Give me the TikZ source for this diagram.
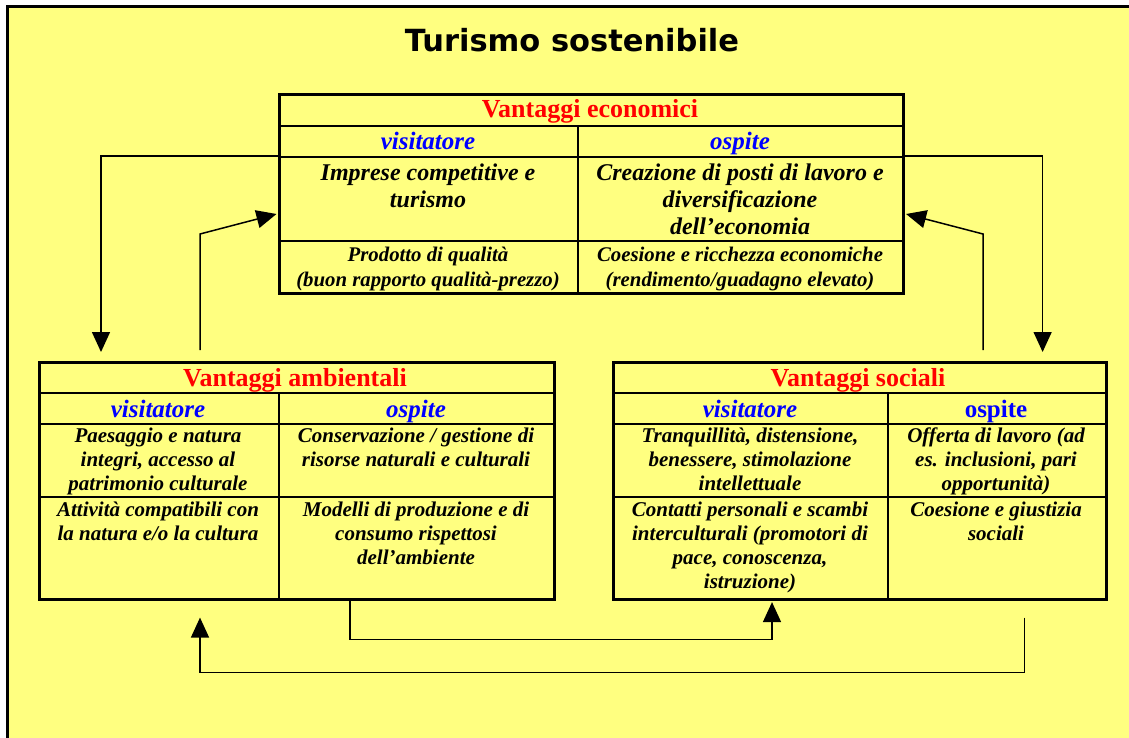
\documentclass[tikz,border=0pt]{standalone}
\usepackage{fontspec}
\setmainfont{Liberation Serif}
\newfontfamily\headfont{DejaVu Sans}
\usetikzlibrary{calc,arrows.meta}
\definecolor{bgyellow}{RGB}{255,255,128}

\begin{document}
\begin{tikzpicture}[x=1pt,y=-1pt,
  panel/.style={draw=black, line width=2.6pt, inner sep=0pt, anchor=north west},
  rule/.style={black, line width=2pt},
  boxtitle/.style={font=\fontsize{26}{30}\selectfont\bfseries, text=red, inner sep=0pt, anchor=base},
  colhead/.style={font=\fontsize{25}{29}\selectfont\bfseries\itshape, text=blue, inner sep=0pt, anchor=base},
  bigtext/.style={font=\fontsize{24}{27}\selectfont\bfseries\itshape, align=center, anchor=north, inner sep=0pt},
  smalltext/.style={font=\fontsize{20.8}{25}\selectfont\bfseries\itshape, align=center, anchor=north, inner sep=0pt},
  midtext/.style={font=\fontsize{21}{24}\selectfont\bfseries\itshape, align=center, anchor=north, inner sep=0pt},
  conn/.style={black, line width=1.5pt, -{Triangle[length=20pt,width=18pt]}}]
  \useasboundingbox (0,0) rectangle (1129,738);
  \fill[white] (0,0) rectangle (1129,738);
  \fill[bgyellow] (7,7) rectangle (1129,738);
  \draw[line width=3pt] (7,738) -- (7,7) -- (1129,7);
  \node[font=\headfont\fontsize{30.5}{34}\selectfont\bfseries, inner sep=0pt, anchor=base] (title) at (572,52) {Turismo sostenibile};

  \node[panel, minimum width=624pt, minimum height=199pt] (eco) at (278,93) {};
  \draw[rule] (278,126) -- (902,126);
  \draw[rule] (278,157) -- (902,157);
  \draw[rule] (278,241) -- (902,241);
  \draw[rule] (578,126) -- (578,292);
  \node[boxtitle] (eco-title) at (590,118) {Vantaggi economici};
  \node[colhead] (eco-vh) at (428,150) {visitatore};
  \node[colhead] (eco-oh) at (740,150) {ospite};
  \node[bigtext] (eco-v1) at (428,164) {Imprese competitive e\\turismo};
  \node[bigtext] (eco-o1) at (740,164) {Creazione di posti di lavoro e\\diversificazione\\dell'economia};
  \node[smalltext] (eco-v2) at (428,247) {Prodotto di qualità\\(buon rapporto qualità-prezzo)};
  \node[smalltext] (eco-o2) at (740,247) {Coesione e ricchezza economiche\\(rendimento/guadagno elevato)};

  \node[panel, minimum width=515pt, minimum height=237pt] (amb) at (38,361) {};
  \draw[rule] (38,393) -- (553,393);
  \draw[rule] (38,424) -- (553,424);
  \draw[rule] (38,497) -- (553,497);
  \draw[rule] (279,393) -- (279,598);
  \node[boxtitle] (amb-title) at (295,386) {Vantaggi ambientali};
  \node[colhead] (amb-vh) at (158,417) {visitatore};
  \node[colhead] (amb-oh) at (416,417) {ospite};
  \node[midtext] (amb-v1) at (158,428) {Paesaggio e natura\\integri, accesso al\\patrimonio culturale};
  \node[midtext] (amb-o1) at (416,428) {Conservazione / gestione di\\risorse naturali e culturali};
  \node[midtext] (amb-v2) at (158,502) {Attività compatibili con\\la natura e/o la cultura};
  \node[midtext] (amb-o2) at (416,502) {Modelli di produzione e di\\consumo rispettosi\\dell'ambiente};

  \node[panel, minimum width=493pt, minimum height=237pt] (soc) at (612,361) {};
  \draw[rule] (612,393) -- (1105,393);
  \draw[rule] (612,424) -- (1105,424);
  \draw[rule] (612,497) -- (1105,497);
  \draw[rule] (888,393) -- (888,598);
  \node[boxtitle] (soc-title) at (858,386) {Vantaggi sociali};
  \node[colhead] (soc-vh) at (750,417) {visitatore};
  \node[colhead, font=\fontsize{25}{29}\selectfont\bfseries] (soc-oh) at (996,417) {ospite};
  \node[midtext] (soc-v1) at (750,428) {Tranquillità, distensione,\\benessere, stimolazione\\intellettuale};
  \node[midtext] (soc-o1) at (996,428) {Offerta di lavoro (ad\\es. inclusioni, pari\\opportunità)};
  \node[midtext] (soc-v2) at (750,502) {Contatti personali e scambi\\interculturali (promotori di\\pace, conoscenza,\\istruzione)};
  \node[midtext] (soc-o2) at (996,502) {Coesione e giustizia\\sociali};

  \draw[conn] ($(eco.north west)+(0,63)$) -| ($(amb.north west)+(63,-9)$);
  \draw[conn] ($(amb.north west)+(162,-11)$) -- ++(0,-116) -- ($(eco.north west)+(-1.5,121)$);
  \draw[conn] ($(eco.north east)+(0,63)$) -| ($(soc.north east)+(-65,-9)$);
  \draw[conn] ($(soc.north west)+(371,-11)$) -- ++(0,-116) -- ($(eco.north east)+(1.5,121)$);
  \draw[conn] ($(amb.south west)+(312,0)$) -- ++(0,39) -| ($(soc.south west)+(160,1.5)$);
  \draw[conn] ($(soc.south east)+(-83,17)$) -- ++(0,55) -| ($(amb.south west)+(162,17)$);
\end{tikzpicture}
\end{document}
